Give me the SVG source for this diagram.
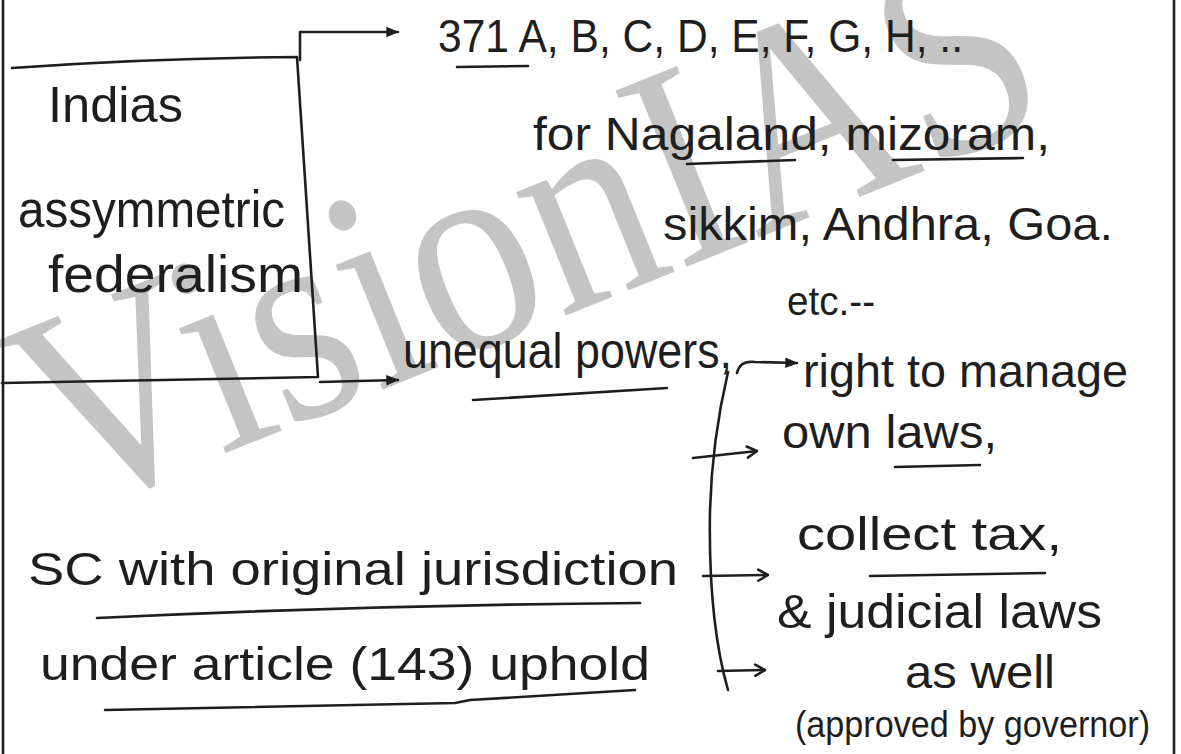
<svg xmlns="http://www.w3.org/2000/svg" width="1181" height="754" viewBox="0 0 1181 754">
<style>
.t{font-family:"Liberation Sans",Arial,sans-serif;fill:#1e1e1e}
.ln{fill:none;stroke:#1e1e1e;stroke-width:2.6;stroke-linecap:round;stroke-linejoin:round}
.wm{font-family:"Liberation Serif","Times New Roman",serif;fill:#c4c4c4}
</style>
<defs>
<marker id="ah" viewBox="0 0 10 10" refX="9" refY="5" markerWidth="13" markerHeight="13" orient="auto" markerUnits="userSpaceOnUse">
<path d="M0,1 L10,5 L0,9 z" fill="#1e1e1e"/>
</marker>
<marker id="ao" viewBox="0 0 10 10" refX="9" refY="5" markerWidth="14" markerHeight="14" orient="auto" markerUnits="userSpaceOnUse">
<path d="M2,1 L9,5 L2,9" fill="none" stroke="#1e1e1e" stroke-width="1.8" stroke-linecap="round"/>
</marker>
</defs>
<rect width="1181" height="754" fill="#ffffff"/>
<g id="watermark"><text class="wm" font-size="290" textLength="1070" lengthAdjust="spacingAndGlyphs" transform="translate(65,518) rotate(-22)">VisionIAS</text></g>
<g id="frame">
<path class="ln" d="M3,0 L3,754"/>
<path class="ln" d="M1174,0 L1174,754"/>
</g>
<g id="node-main">
<path class="ln" d="M12,68 Q150,58 297,57 L318,377 L2,383"/>
<text class="t" x="48" y="122" font-size="50" textLength="135" lengthAdjust="spacingAndGlyphs">Indias</text>
<text class="t" x="18" y="227" font-size="52" textLength="267" lengthAdjust="spacingAndGlyphs">assymmetric</text>
<text class="t" x="48" y="292" font-size="52" textLength="255" lengthAdjust="spacingAndGlyphs">federalism</text>
</g>
<g id="node-371">
<text class="t" x="438" y="52" font-size="46" textLength="525" lengthAdjust="spacingAndGlyphs">371 A, B, C, D, E, F, G, H, ..</text>
<path class="ln" d="M457,67 L528,66"/>
<text class="t" x="533" y="150" font-size="46" textLength="517" lengthAdjust="spacingAndGlyphs">for Nagaland, mizoram,</text>
<path class="ln" d="M687,164 L795,160"/>
<path class="ln" d="M893,160 L1023,158"/>
<text class="t" x="663" y="240" font-size="46" textLength="450" lengthAdjust="spacingAndGlyphs">sikkim, Andhra, Goa.</text>
<text class="t" x="787" y="315" font-size="40" textLength="88" lengthAdjust="spacingAndGlyphs">etc.--</text>
</g>
<g id="node-unequal">
<text class="t" x="403" y="368" font-size="50" textLength="329" lengthAdjust="spacingAndGlyphs">unequal powers,</text>
<path class="ln" d="M473,400 L667,388"/>
</g>
<g id="node-powers">
<text class="t" x="803" y="387" font-size="46" textLength="325" lengthAdjust="spacingAndGlyphs">right to manage</text>
<text class="t" x="782" y="448" font-size="46" textLength="215" lengthAdjust="spacingAndGlyphs">own laws,</text>
<path class="ln" d="M895,467 L980,465"/>
<text class="t" x="797" y="550" font-size="46" textLength="265" lengthAdjust="spacingAndGlyphs">collect tax,</text>
<path class="ln" d="M870,576 L1045,573"/>
<text class="t" x="777" y="628" font-size="48" textLength="325" lengthAdjust="spacingAndGlyphs">&amp; judicial laws</text>
<text class="t" x="905" y="688" font-size="46" textLength="150" lengthAdjust="spacingAndGlyphs">as well</text>
<text class="t" x="795" y="737" font-size="36" textLength="355" lengthAdjust="spacingAndGlyphs">(approved by governor)</text>
</g>
<g id="node-sc">
<text class="t" x="28" y="585" font-size="46" textLength="650" lengthAdjust="spacingAndGlyphs">SC with original jurisdiction</text>
<path class="ln" d="M97,618 Q370,605 640,603"/>
<text class="t" x="40" y="680" font-size="46" textLength="610" lengthAdjust="spacingAndGlyphs">under article (143) uphold</text>
<path class="ln" d="M105,710 L455,703 L470,700 L635,690"/>
</g>
<g id="connectors">
<path class="ln" d="M300,60 L300,32 L398,32" marker-end="url(#ah)"/>
<path class="ln" d="M320,382 L398,380" marker-end="url(#ah)"/>
<path class="ln" d="M737,373 Q740,360 755,362 L797,363" marker-end="url(#ah)"/>
<path class="ln" d="M728,372 Q712,440 710,510 Q708,620 728,690"/>
<path class="ln" d="M693,458 L757,451" marker-end="url(#ao)"/>
<path class="ln" d="M703,576 L768,575" marker-end="url(#ao)"/>
<path class="ln" d="M718,671 L765,670" marker-end="url(#ao)"/>
</g>
</svg>
